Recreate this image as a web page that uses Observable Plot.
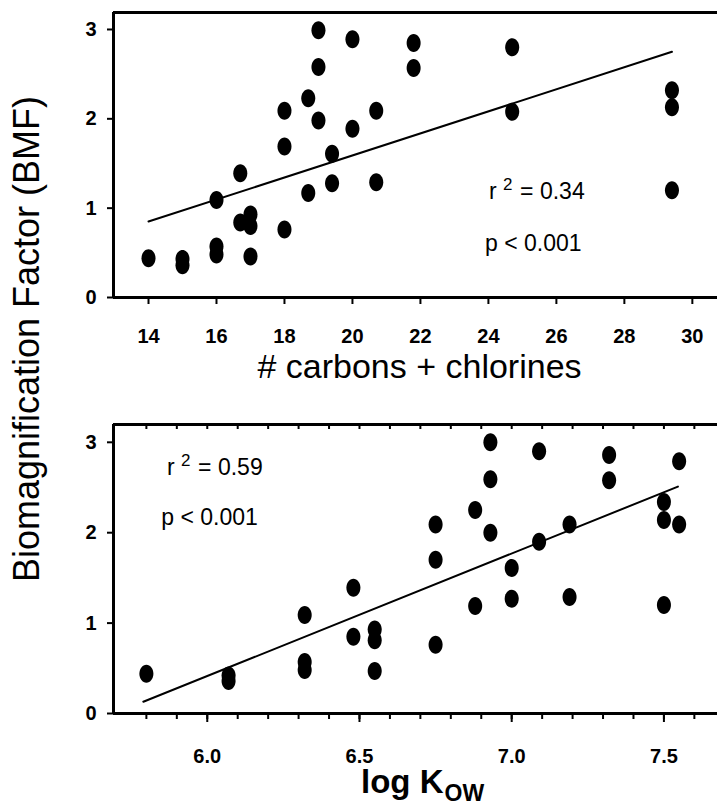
<!DOCTYPE html>
<html><head><meta charset="utf-8">
<script src="https://cdn.jsdelivr.net/npm/d3@7"></script>
<script src="https://cdn.jsdelivr.net/npm/@observablehq/plot@0.6"></script>
<style>
body{margin:0;background:#fff;}
#wrap{position:relative;width:717px;height:806px;overflow:hidden;font-family:"Liberation Sans",Arial,sans-serif;}
#wrap > svg{position:absolute;left:0;}
</style></head><body><div id="wrap"></div>
<script>
// ---- Top panel data: BMF vs # carbons + chlorines ----
const topX = [14,15,15,16,16,16,16.7,16.7,17,17,17,18,18,18,18.7,18.7,19,19,19,19.4,19.4,20,20,20.7,20.7,21.8,21.8,24.7,24.7,29.4,29.4,29.4];
const topY = [0.44,0.43,0.36,0.57,0.48,1.09,1.39,0.84,0.93,0.80,0.46,2.09,1.69,0.76,2.23,1.17,2.99,2.58,1.98,1.61,1.28,2.89,1.89,2.09,1.29,2.85,2.57,2.80,2.08,2.32,2.13,1.20];
const topFitX = [14, 29.4];
const topFitY = [0.85, 2.75];
const topXTicks = [14,16,18,20,22,24,26,28,30];
const topDomainX = [12.97, 30.74];
const topStats = ["r", "2", "= 0.34", "p < 0.001"];
const topTitle = "# carbons + chlorines";

// ---- Bottom panel data: BMF vs log Kow ----
const botX = [5.80,6.07,6.07,6.32,6.32,6.32,6.48,6.48,6.55,6.55,6.55,6.75,6.75,6.75,6.88,6.88,6.93,6.93,6.93,7.00,7.00,7.09,7.09,7.19,7.19,7.32,7.32,7.50,7.50,7.50,7.55,7.55];
const botY = [0.44,0.42,0.36,1.09,0.57,0.48,1.39,0.85,0.93,0.81,0.47,2.09,1.70,0.76,2.25,1.19,3.00,2.59,2.00,1.61,1.27,2.90,1.90,2.09,1.29,2.86,2.58,2.34,2.14,1.20,2.79,2.09];
const botFitX = [5.79, 7.546];
const botFitY = [0.13, 2.51];
const botMajorTicks = [6.0, 6.5, 7.0, 7.5];
const botMinorTicks = [5.8,5.9,6.0,6.1,6.2,6.3,6.4,6.5,6.6,6.7,6.8,6.9,7.0,7.1,7.2,7.3,7.4,7.5,7.6];
const botDomainX = [5.692, 7.676];
const botStats = ["r", "2", "= 0.59", "p < 0.001"];
const botTitle = ["log K", "OW"];

// shared
const yTicks = [0,1,2,3];
const topDomainYMax = 3.19;
const botDomainYMax = 3.197;
const yTitle = "Biomagnification Factor (BMF)";

// annotation anchor points (data units)
const topStatPos = [{x: 24.02, y: 1.097}, {x: 23.90, y: 0.526}];
const botStatPos = [{x: 5.868, y: 2.633}, {x: 5.849, y: 2.081}];

const FONT = "Liberation Sans, Arial, Helvetica, sans-serif";

const ellipse = {draw(ctx, size){
  const r = Math.sqrt(size/Math.PI), rx = r*0.78, ry = r, k = 0.5523;
  ctx.moveTo(0,-ry);
  ctx.bezierCurveTo(k*rx,-ry, rx,-k*ry, rx,0);
  ctx.bezierCurveTo(rx,k*ry, k*rx,ry, 0,ry);
  ctx.bezierCurveTo(-k*rx,ry, -rx,k*ry, -rx,0);
  ctx.bezierCurveTo(-rx,-k*ry, -k*rx,-ry, 0,-ry);
  ctx.closePath();
}};

function statMarks(stats, pos){
  return [
    Plot.text([pos[0]], {x:"x", y:"y", text:()=>stats[0], textAnchor:"start", lineAnchor:"bottom", fontSize:23, fill:"black"}),
    Plot.text([pos[0]], {x:"x", y:"y", text:()=>stats[1], textAnchor:"start", lineAnchor:"bottom", fontSize:17, dx:14, dy:-9, fill:"black"}),
    Plot.text([pos[0]], {x:"x", y:"y", text:()=>stats[2], textAnchor:"start", lineAnchor:"bottom", fontSize:23, dx:31, fill:"black"}),
    Plot.text([pos[1]], {x:"x", y:"y", text:()=>stats[3], textAnchor:"start", lineAnchor:"bottom", fontSize:23, fill:"black"})
  ];
}

const topData = topX.map((x,i)=>({x, y: topY[i]}));
const topFit = topFitX.map((x,i)=>({x, y: topFitY[i]}));
const botData = botX.map((x,i)=>({x, y: botY[i]}));
const botFit = botFitX.map((x,i)=>({x, y: botFitY[i]}));

const topPlot = Plot.plot({
  width: 717, height: 390,
  marginLeft: 113, marginRight: 0, marginTop: 12, marginBottom: 93,
  style: {fontFamily: FONT, background: "transparent", color: "black"},
  x: {domain: topDomainX},
  y: {domain: [0, topDomainYMax]},
  marks: [
    Plot.axisX(topXTicks, {tickSize: 7, tickPadding: 24, fontSize: 20, fontWeight: "bold", strokeWidth: 2, label: null, tickFormat: d => String(d)}),
    Plot.axisY(yTicks, {tickSize: 6, tickPadding: 11, fontSize: 20, fontWeight: "bold", strokeWidth: 2, label: null, tickFormat: d => String(d)}),
    Plot.ruleY([topDomainYMax], {strokeWidth: 3}),
    Plot.ruleX([topDomainX[0]], {strokeWidth: 3}),
    Plot.ruleY([0], {strokeWidth: 3}),
    Plot.line(topFit, {x: "x", y: "y", strokeWidth: 2, stroke: "black"}),
    Plot.dot(topData, {x: "x", y: "y", r: 9, symbol: ellipse, fill: "black", stroke: "none"}),
    ...statMarks(topStats, topStatPos),
    Plot.text([topTitle], {frameAnchor: "bottom", text: d => d, fontSize: 34, lineAnchor: "bottom", dy: 80, dx: 4, fill: "black"})
  ]
});
topPlot.style.top = "0px";

const botPlot = Plot.plot({
  width: 717, height: 406,
  marginLeft: 113, marginRight: 0, marginTop: 24, marginBottom: 93,
  style: {fontFamily: FONT, background: "transparent", color: "black"},
  x: {domain: botDomainX},
  y: {domain: [0, botDomainYMax]},
  marks: [
    Plot.axisX(botMinorTicks, {tickSize: 6, strokeWidth: 2, label: null, tickFormat: () => ""}),
    Plot.axisX(botMajorTicks, {tickSize: 9, tickPadding: 26, fontSize: 20, fontWeight: "bold", strokeWidth: 2, label: null, tickFormat: d3.format(".1f")}),
    Plot.tickX(botMinorTicks, {x: d => d, insetBottom: 284, strokeWidth: 2, stroke: "black"}),
    Plot.axisY(yTicks, {tickSize: 6, tickPadding: 11, fontSize: 20, fontWeight: "bold", strokeWidth: 2, label: null, tickFormat: d => String(d)}),
    Plot.ruleY([botDomainYMax], {strokeWidth: 3}),
    Plot.ruleX([botDomainX[0]], {strokeWidth: 3}),
    Plot.ruleY([0], {strokeWidth: 3}),
    Plot.line(botFit, {x: "x", y: "y", strokeWidth: 2, stroke: "black"}),
    Plot.dot(botData, {x: "x", y: "y", r: 9, symbol: ellipse, fill: "black", stroke: "none"}),
    ...statMarks(botStats, botStatPos),
    Plot.text([botTitle[0]], {frameAnchor: "bottom", text: d => d, fontSize: 33, fontWeight: "bold", textAnchor: "end", lineAnchor: "bottom", dy: 79, dx: 28, fill: "black"}),
    Plot.text([botTitle[1]], {frameAnchor: "bottom", text: d => d, fontSize: 23, fontWeight: "bold", textAnchor: "start", lineAnchor: "bottom", dy: 87, dx: 29, fill: "black"})
  ]
});
botPlot.style.top = "400px";

const wrap = document.getElementById("wrap");
wrap.appendChild(topPlot);
wrap.appendChild(botPlot);

// shared y-axis title
const ov = d3.select(wrap).append("svg")
  .attr("width", 717).attr("height", 806)
  .style("top", "0px").style("pointer-events", "none");
ov.append("text")
  .attr("transform", "translate(39,339) rotate(-90)")
  .attr("text-anchor", "middle")
  .attr("font-family", FONT)
  .attr("font-size", 36)
  .attr("fill", "black")
  .text(yTitle);
</script>
</body></html>
